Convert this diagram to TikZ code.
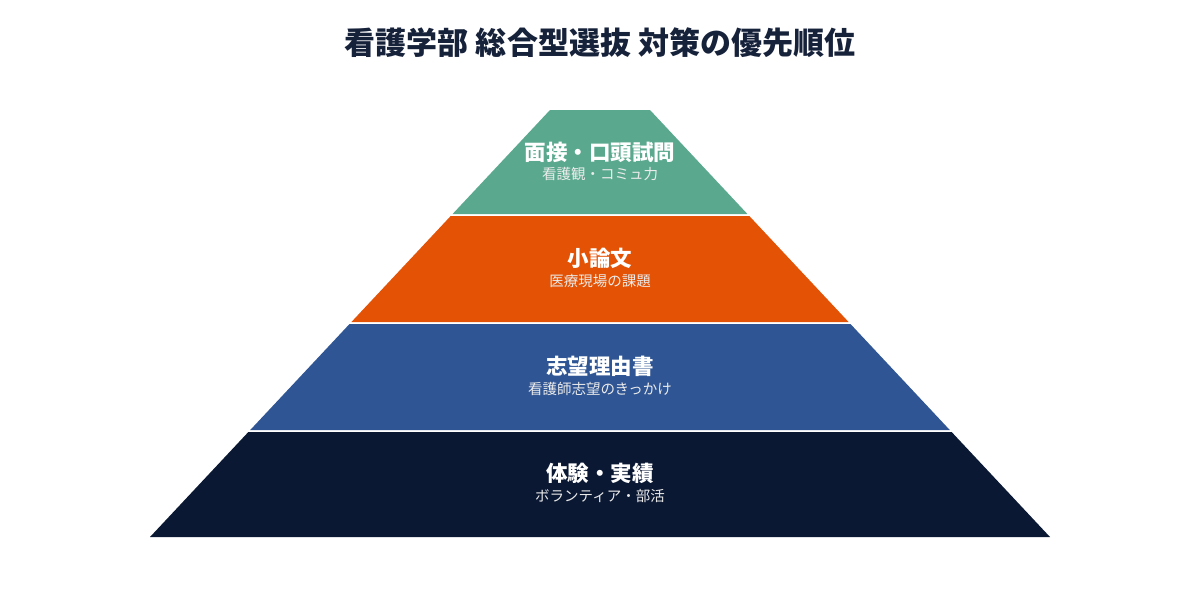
\documentclass[tikz,border=0pt]{standalone}
\usepackage{fontspec}
\setmainfont{Noto Sans CJK JP}
\begin{document}
\begin{tikzpicture}[x=1pt,y=-1pt,
  ttl/.style={font=\fontsize{21.5}{24}\selectfont\bfseries,text=white,inner sep=0},
  sub/.style={font=\fontsize{14.5}{16}\selectfont,text=white!92!black,inner sep=0}]
\definecolor{c1}{HTML}{5AA98F}
\definecolor{c2}{HTML}{E35205}
\definecolor{c3}{HTML}{2F5594}
\definecolor{c4}{HTML}{0B1833}
\definecolor{tc}{HTML}{16213A}
\useasboundingbox (0,0) rectangle (1200,600);
\pgfmathsetmacro{\s}{400/427}
\newcommand{\layer}[3]{%
  \fill[#3] ({550-\s*(#1-110)},#1) -- ({650+\s*(#1-110)},#1) -- ({650+\s*(#2-110)},#2) -- ({550-\s*(#2-110)},#2) -- cycle;}
\layer{110}{214}{c1}
\layer{216}{322}{c2}
\layer{324}{430}{c3}
\layer{432}{537}{c4}
\node[font=\fontsize{31}{36}\selectfont\bfseries,text=tc] (title) at (600,43) {看護学部 総合型選抜 対策の優先順位};
\node[ttl] (t1) at (600,152) {面接・口頭試問};
\node[sub] (s1) at (600,174) {看護観・コミュ力};
\node[ttl] (t2) at (600,258) {小論文};
\node[sub] (s2) at (600,281) {医療現場の課題};
\node[ttl] (t3) at (600,366) {志望理由書};
\node[sub] (s3) at (600,389) {看護師志望のきっかけ};
\node[ttl] (t4) at (600,473) {体験・実績};
\node[sub] (s4) at (600,496) {ボランティア・部活};
\end{tikzpicture}
\end{document}
